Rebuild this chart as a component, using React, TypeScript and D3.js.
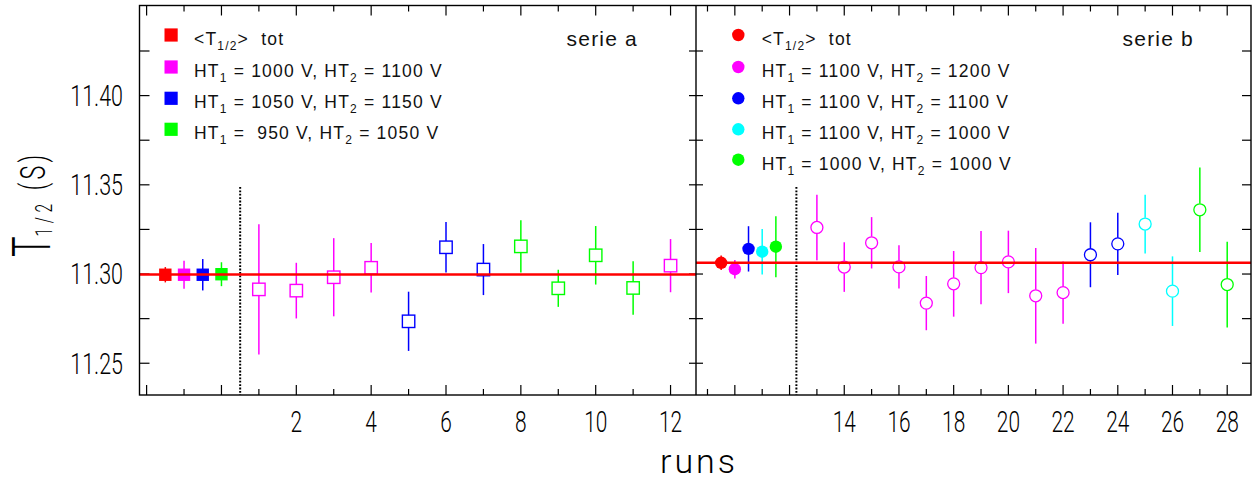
import React from 'react';
import * as d3 from 'd3';

// ---------------- data ----------------
const groupColors: Record<string, string> = {
  tot: '#ff0000', m: '#ff00ff', b: '#0000ff', c: '#00ffff', g: '#00ff00',
};

// legend labels: alternating [normal, subscript, normal, subscript, normal]
const legendALabels: string[][] = [
  ['<T', '1/2', '>  tot'],
  ['HT', '1', ' = 1000 V, HT', '2', ' = 1100 V'],
  ['HT', '1', ' = 1050 V, HT', '2', ' = 1150 V'],
  ['HT', '1', ' =  950 V, HT', '2', ' = 1050 V'],
];
const legendAGroups = ['tot', 'm', 'b', 'g'];
const legendBLabels: string[][] = [
  ['<T', '1/2', '>  tot'],
  ['HT', '1', ' = 1100 V, HT', '2', ' = 1200 V'],
  ['HT', '1', ' = 1100 V, HT', '2', ' = 1100 V'],
  ['HT', '1', ' = 1100 V, HT', '2', ' = 1000 V'],
  ['HT', '1', ' = 1000 V, HT', '2', ' = 1000 V'],
];
const legendBGroups = ['tot', 'm', 'b', 'c', 'g'];

const serieALabel = 'serie a';
const serieBLabel = 'serie b';

// series a
const refAPositions = [-1.5, -1, -0.5, 0];
const refAGroups = ['tot', 'm', 'b', 'g'];
const refAValues = [11.2996, 11.2996, 11.2996, 11.2999];
const refAErrors = [0.0043, 0.0079, 0.0088, 0.0067];
const runsA = [1, 2, 3, 4, 5, 6, 7, 8, 9, 10, 11, 12];
const runAGroups = ['m', 'm', 'm', 'm', 'b', 'b', 'b', 'g', 'g', 'g', 'g', 'm'];
const runAValues = [11.2914, 11.2907, 11.2982, 11.3035, 11.2735, 11.315, 11.3025, 11.3155, 11.292, 11.3105, 11.2922, 11.3047];
const runAErrors = [0.0365, 0.0156, 0.0219, 0.0139, 0.0166, 0.0142, 0.0143, 0.0147, 0.0104, 0.0164, 0.015, 0.0149];
const meanA = 11.2997;
const dividerA = 0.5;

// series b
const refBPositions = [9.5, 10, 10.5, 11, 11.5];
const refBGroups = ['tot', 'm', 'b', 'c', 'g'];
const refBValues = [11.3063, 11.3027, 11.3141, 11.3125, 11.3153];
const refBErrors = [0.0041, 0.0052, 0.0127, 0.0127, 0.0171];
const runsB = [13, 14, 15, 16, 17, 18, 19, 20, 21, 22, 23, 24, 25, 26, 27, 28];
const runBGroups = ['m', 'm', 'm', 'm', 'm', 'm', 'm', 'm', 'm', 'm', 'b', 'b', 'c', 'c', 'g', 'g'];
const runBValues = [11.3261, 11.3039, 11.3175, 11.304, 11.2837, 11.2945, 11.3036, 11.3068, 11.2878, 11.2896, 11.3108, 11.3169, 11.328, 11.2904, 11.336, 11.2941];
const runBErrors = [0.0184, 0.0139, 0.0144, 0.0121, 0.0152, 0.0184, 0.0205, 0.0175, 0.0268, 0.0174, 0.0182, 0.0174, 0.0165, 0.0195, 0.0237, 0.024];
const meanB = 11.3063;
const dividerB = 12.25;

const yTickLabels = [11.25, 11.3, 11.35, 11.4];
const xTickLabelsA = [2, 4, 6, 8, 10, 12];
const xTickLabelsB = [14, 16, 18, 20, 22, 24, 26, 28];

// ---------------- layout ----------------
const W = 1257;
const H = 481;
const top = 5.5;
const bottom = 395;
const left = 139.5;
const mid = 696;
const right = 1251;

const y = d3.scaleLinear().domain([11.2322, 11.4505]).range([bottom, top]);
const xA = d3.scaleLinear().domain([-2.19, 12.68]).range([left, mid]);
const xB = d3.scaleLinear().domain([8.58, 28.87]).range([mid, right]);

const yTicks = d3.range(0, 8).map((i) => 11.25 + i * 0.025);

const axisFont = 'Roboto, "DejaVu Sans", sans-serif';
const textFont = '"Liberation Sans", Arial, sans-serif';

function LegendText({ parts, x, yb }: { parts: string[]; x: number; yb: number }) {
  return (
    <text x={x} y={yb} fontFamily={textFont} fontSize={17.5} letterSpacing={1.2} fill="#111" style={{ whiteSpace: 'pre' }}>
      {parts.map((p, i) =>
        i % 2 === 1 ? (
          <tspan key={i} fontSize={12} dy={5}>{p}</tspan>
        ) : (
          <tspan key={i} dy={i === 0 ? 0 : -5}>{p}</tspan>
        )
      )}
    </text>
  );
}

function Panel({
  x, refPos, refGroups, refValues, refErrors, runs, runGroups, runValues, runErrors,
  mean, divider, shape, xMajor, xMinor, x0, x1, leftTick, rightTick,
}: any) {
  const half = 6.2;
  const marker = (cx: number, cy: number, color: string, filled: boolean, key: string) =>
    shape === 'square' ? (
      <rect key={key} x={cx - half} y={cy - half} width={half * 2} height={half * 2}
        fill={filled ? color : 'none'} stroke={color} strokeWidth={filled ? 0 : 1.4} />
    ) : (
      <circle key={key} cx={cx} cy={cy} r={filled ? 6.2 : 6}
        fill={filled ? color : 'none'} stroke={color} strokeWidth={filled ? 0 : 1.3} />
    );
  const errBar = (cx: number, v: number, e: number, color: string, filled: boolean, key: string) => {
    const cy = y(v);
    const yt = y(v + e);
    const yb = y(v - e);
    if (filled) {
      return <line key={key} x1={cx} x2={cx} y1={yt} y2={yb} stroke={color} strokeWidth={1.5} />;
    }
    return (
      <g key={key}>
        {yt < cy - half && <line x1={cx} x2={cx} y1={yt} y2={cy - half} stroke={color} strokeWidth={1.5} />}
        {yb > cy + half && <line x1={cx} x2={cx} y1={cy + half} y2={yb} stroke={color} strokeWidth={1.5} />}
      </g>
    );
  };
  return (
    <g>
      {xMajor.map((t: number) => (
        <g key={'M' + t}>
          <line x1={x(t)} x2={x(t)} y1={bottom} y2={bottom - 10} stroke="#000" strokeWidth={1.2} />
          <line x1={x(t)} x2={x(t)} y1={top} y2={top + 10} stroke="#000" strokeWidth={1.2} />
        </g>
      ))}
      {xMinor.map((t: number) => (
        <g key={'m' + t}>
          <line x1={x(t)} x2={x(t)} y1={bottom} y2={bottom - 6} stroke="#000" strokeWidth={1.2} />
          <line x1={x(t)} x2={x(t)} y1={top} y2={top + 6} stroke="#000" strokeWidth={1.2} />
        </g>
      ))}
      {yTicks.map((t) => (
        <g key={'y' + t}>
          <line x1={x0} x2={x0 + leftTick} y1={y(t)} y2={y(t)} stroke="#000" strokeWidth={1.2} />
          <line x1={x1} x2={x1 - rightTick} y1={y(t)} y2={y(t)} stroke="#000" strokeWidth={1.2} />
        </g>
      ))}
      <line x1={x(divider)} x2={x(divider)} y1={187} y2={bottom} stroke="#000" strokeWidth={2} strokeDasharray="1.8,1.6" />
      {refPos.map((p: number, i: number) => errBar(x(p), refValues[i], refErrors[i], groupColors[refGroups[i]], true, 're' + i))}
      {runs.map((p: number, i: number) => errBar(x(p), runValues[i], runErrors[i], groupColors[runGroups[i]], false, 'ue' + i))}
      {refPos.map((p: number, i: number) => marker(x(p), y(refValues[i]), groupColors[refGroups[i]], true, 'rm' + i))}
      {runs.map((p: number, i: number) => marker(x(p), y(runValues[i]), groupColors[runGroups[i]], false, 'um' + i))}
      <line x1={x0} x2={x1} y1={y(mean)} y2={y(mean)} stroke="#ff0000" strokeWidth={2.4} />
    </g>
  );
}

export default function App() {
  const legendRows = [35, 67, 98.3, 129.3, 159.7];
  return (
    <svg width={W} height={H} viewBox={`0 0 ${W} ${H}`}
      style={{ position: 'absolute', left: 0, top: 0, background: '#fff' }}>
      <rect x={0} y={0} width={W} height={H} fill="#fff" />

      <Panel x={xA} refPos={refAPositions} refGroups={refAGroups} refValues={refAValues} refErrors={refAErrors}
        runs={runsA} runGroups={runAGroups} runValues={runAValues} runErrors={runAErrors}
        mean={meanA} divider={dividerA} shape="square"
        xMajor={[-2, 0, 2, 4, 6, 8, 10, 12]} xMinor={[-1, 1, 3, 5, 7, 9, 11]}
        x0={left} x1={mid} leftTick={10} rightTick={7} />
      <Panel x={xB} refPos={refBPositions} refGroups={refBGroups} refValues={refBValues} refErrors={refBErrors}
        runs={runsB} runGroups={runBGroups} runValues={runBValues} runErrors={runBErrors}
        mean={meanB} divider={dividerB} shape="circle"
        xMajor={[10, 12, 14, 16, 18, 20, 22, 24, 26, 28]} xMinor={[9, 11, 13, 15, 17, 19, 21, 23, 25, 27]}
        x0={mid} x1={right} leftTick={7} rightTick={9} />

      <rect x={left} y={top} width={right - left} height={bottom - top} fill="none" stroke="#000" strokeWidth={1.4} />
      <line x1={mid} x2={mid} y1={top} y2={bottom} stroke="#000" strokeWidth={1.4} />

      {yTickLabels.map((t) => (
        <text key={t} transform={`translate(123,${y(t) + 10.3}) scale(0.74,1)`} textAnchor="end"
          fontFamily={axisFont} fontWeight={300} fontSize={29} fill="#000">{t.toFixed(2)}</text>
      ))}
      {xTickLabelsA.map((t) => (
        <text key={'a' + t} transform={`translate(${xA(t)},431.7) scale(0.72,1)`} textAnchor="middle"
          fontFamily={axisFont} fontWeight={300} fontSize={29} fill="#000">{t}</text>
      ))}
      {xTickLabelsB.map((t) => (
        <text key={'b' + t} transform={`translate(${xB(t)},431.7) scale(0.72,1)`} textAnchor="middle"
          fontFamily={axisFont} fontWeight={300} fontSize={29} fill="#000">{t}</text>
      ))}

      <text x={699} y={473.3} textAnchor="middle" fontFamily={axisFont} fontWeight={300} fontSize={34}
        letterSpacing={3} fill="#000">runs</text>
      <text transform="translate(50,257) rotate(-90) scale(0.65,1)" fontFamily={axisFont} fontWeight={300}
        fontSize={53} fill="#000" style={{ whiteSpace: 'pre' }}>
        T<tspan fontSize={24} dy={2} letterSpacing={7}>1/2</tspan>
        <tspan fontSize={36} dy={-7} letterSpacing={5}>{' (S)'}</tspan>
      </text>

      {legendALabels.map((parts, i) => (
        <g key={'la' + i}>
          <rect x={164.5} y={legendRows[i] - 6.6} width={13.2} height={13.2} fill={groupColors[legendAGroups[i]]} />
          <LegendText parts={parts} x={194} yb={legendRows[i] + 10} />
        </g>
      ))}
      {legendBLabels.map((parts, i) => (
        <g key={'lb' + i}>
          <circle cx={738.3} cy={legendRows[i]} r={6.2} fill={groupColors[legendBGroups[i]]} />
          <LegendText parts={parts} x={761.7} yb={legendRows[i] + 10} />
        </g>
      ))}
      <text x={638} y={46} textAnchor="end" fontFamily={textFont} fontSize={21} letterSpacing={1.2} fill="#111">{serieALabel}</text>
      <text x={1194} y={46} textAnchor="end" fontFamily={textFont} fontSize={21} letterSpacing={1.2} fill="#111">{serieBLabel}</text>
    </svg>
  );
}
